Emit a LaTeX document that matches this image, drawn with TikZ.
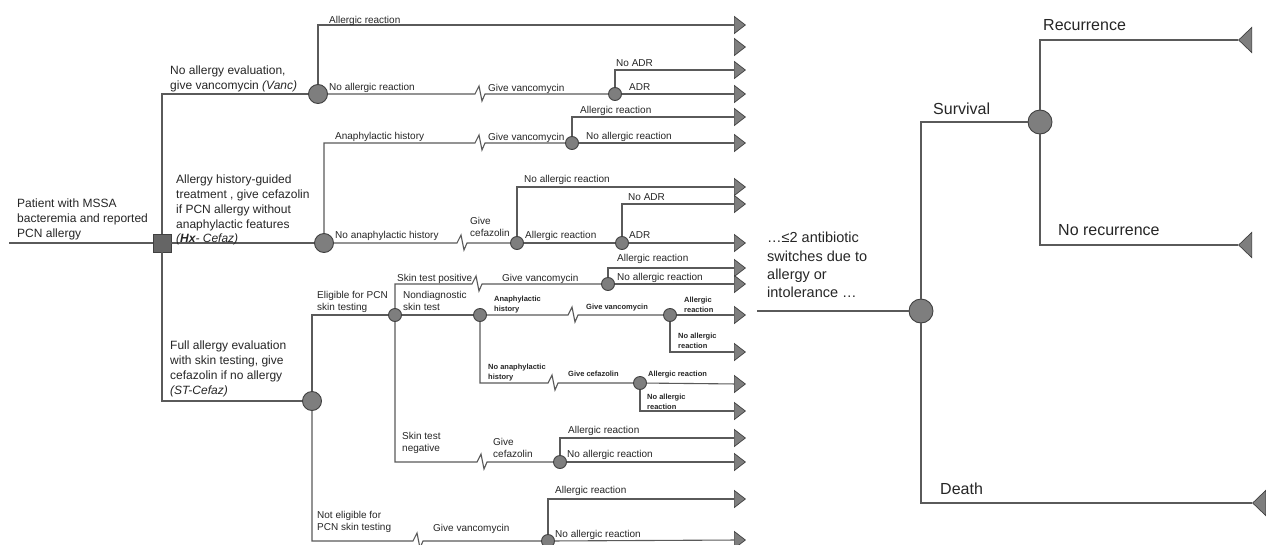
\documentclass[tikz,border=0pt]{standalone}
\usepackage{fontspec}
\setmainfont{Liberation Sans}
\usetikzlibrary{shapes.geometric}

\definecolor{wire}{HTML}{5A5A5A}
\definecolor{bulb}{HTML}{7E7E7E}
\definecolor{rim}{HTML}{404040}

\begin{document}
\begin{tikzpicture}[x=1pt,y=-1pt]
   \tikzstyle{every node}=[inner sep=0pt,text=black!85]
   \tikzstyle{conn}=[draw=wire,line width=1.1pt]
   \tikzstyle{elbow}=[to path={|- (\tikztotarget) \tikztonodes}]
   \tikzstyle{zz}=[insert path={-- ++(4,-8) -- ++(3,15) -- ++(3,-7)}]
   \tikzstyle{chance}=[circle,draw=rim,fill=bulb,line width=0.9pt,minimum size=13pt]
   \tikzstyle{bigchance}=[chance,minimum size=19pt]
   \tikzstyle{decision}=[rectangle,draw=rim,fill=bulb!80!black,line width=0.9pt,minimum size=18pt]
   \tikzstyle{stop}=[isosceles triangle,isosceles triangle stretches,shape border rotate=0,minimum width=17pt,minimum height=11pt,draw=rim,fill=bulb,line width=0.7pt,anchor=lower side]
   \tikzstyle{stopleft}=[stop,shape border rotate=180,minimum width=25pt,minimum height=13pt]
   \tikzstyle{lbl}=[font=\fontsize{10}{12}\selectfont,anchor=base west]
   \tikzstyle{lbls}=[lbl,align=left,anchor=north west]
   \tikzstyle{tny}=[font=\bfseries\fontsize{7.5}{10}\selectfont,anchor=base west]
   \tikzstyle{tnys}=[tny,align=left,anchor=north west]
   \tikzstyle{arm}=[font=\fontsize{12}{14.7}\selectfont,align=left,anchor=north west]
   \tikzstyle{outc}=[font=\fontsize{16}{19}\selectfont,anchor=base west]

   \path[use as bounding box,fill=white] (0,0) rectangle (1266,544);

   % decision and chance nodes
   \coordinate (root) at (9,243);
   \node[decision]  (D)   at (162,243) {};
   \node[bigchance] (C1)  at (318,94)  {};
   \node[chance]    (C2)  at (615,94)  {};
   \node[bigchance] (C3)  at (324,243) {};
   \node[chance]    (C4)  at (572,143) {};
   \node[chance]    (C5)  at (517,243) {};
   \node[chance]    (C6)  at (622,243) {};
   \node[bigchance] (C7)  at (312,401) {};
   \node[chance]    (C8)  at (395,315) {};
   \node[chance]    (C9)  at (608,284) {};
   \node[chance]    (C10) at (480,315) {};
   \node[chance]    (C11) at (670,315) {};
   \node[chance]    (C12) at (640,383) {};
   \node[chance]    (C13) at (560,462) {};
   \node[chance]    (C14) at (548,541) {};

   % breaks in the time line
   \coordinate (k1) at (480,94);
   \coordinate (k2) at (480,143);
   \coordinate (k3) at (462,243);
   \coordinate (k4) at (477,284);
   \coordinate (k5) at (573,315);
   \coordinate (k6) at (553,383);
   \coordinate (k7) at (482,462);
   \coordinate (k8) at (418,541);

   % end points
   \node[stop] (t1)  at (734,25)  {};
   \node[stop] (t2)  at (734,47)  {};
   \node[stop] (t3)  at (734,70)  {};
   \node[stop] (t4)  at (734,94)  {};
   \node[stop] (t5)  at (734,117) {};
   \node[stop] (t6)  at (734,143) {};
   \node[stop] (t7)  at (734,187) {};
   \node[stop] (t8)  at (734,204) {};
   \node[stop] (t9)  at (734,243) {};
   \node[stop] (t10) at (734,268) {};
   \node[stop] (t11) at (734,284) {};
   \node[stop] (t12) at (734,315) {};
   \node[stop] (t13) at (734,352) {};
   \node[stop] (t14) at (734,384) {};
   \node[stop] (t15) at (734,411) {};
   \node[stop] (t16) at (734,438) {};
   \node[stop] (t17) at (734,462) {};
   \node[stop] (t18) at (734,499) {};
   \node[stop] (t19) at (734,540) {};

   \path[conn]
     (root) edge (D)
     (D)   edge [elbow] (C1)
     (D)   edge         (C3)
     (D)   edge [elbow] (C7)
     (C1)  edge [elbow] (t1)
     (C2)  edge [elbow] (t3)
     (C2)  edge         (t4)
     (C4)  edge [elbow] (t5)
     (C4)  edge         (t6)
     (C5)  edge [elbow] (t7)
     (C5)  edge         (C6)
     (C6)  edge [elbow] (t8)
     (C6)  edge         (t9)
     (C7)  edge [elbow] (C8)
     (C8)  edge         (C10)
     (C9)  edge [elbow] (t10)
     (C9)  edge         (t11)
     (C11) edge         (t12)
     (C11) edge [elbow] (t13)
     (C12) edge         (t14)
     (C12) edge [elbow] (t15)
     (C13) edge [elbow] (t16)
     (C13) edge         (t17)
     (C14) edge [elbow] (t18)
     (C14) edge         (t19);
   \draw[conn] (C1) -- ([xshift=-5pt]k1) [zz] -- (C2);
   \draw[conn] (C3) |- ([xshift=-5pt]k2) [zz] -- (C4);
   \draw[conn] (C3) -- ([xshift=-5pt]k3) [zz] -- (C5);
   \draw[conn] (C8) |- ([xshift=-5pt]k4) [zz] -- (C9);
   \draw[conn] (C10) -- ([xshift=-5pt]k5) [zz] -- (C11);
   \draw[conn] (C10) |- ([xshift=-5pt]k6) [zz] -- (C12);
   \draw[conn] (C8) |- ([xshift=-5pt]k7) [zz] -- (C13);
   \draw[conn] (C7) |- ([xshift=-5pt]k8) [zz] -- (C14);

   % strategy arms
   \node[arm] (pat) at (17,199) {Patient with MSSA\\bacteremia and reported\\PCN allergy};
   \node[arm] (vanc) at (170,66) {No allergy evaluation,\\give vancomycin \textit{(Vanc)}};
   \node[arm] (hx) at (176,175) {Allergy history-guided\\treatment , give cefazolin\\if PCN allergy without\\anaphylactic features\\\textit{(\textbf{Hx}- Cefaz)}};
   \node[arm] (st) at (170,341) {Full allergy evaluation\\with skin testing, give\\cefazolin if no allergy\\\textit{(ST-Cefaz)}};

   % branch labels
   \node[lbl] at (329,23)  {Allergic reaction};
   \node[lbl] at (329,90)  {No allergic reaction};
   \node[lbl] at (488,91)  {Give vancomycin};
   \node[lbl] at (616,66)  {No ADR};
   \node[lbl] at (629,90)  {ADR};
   \node[lbl] at (580,113) {Allergic reaction};
   \node[lbl] at (335,139) {Anaphylactic history};
   \node[lbl] at (488,140) {Give vancomycin};
   \node[lbl] at (586,139) {No allergic reaction};
   \node[lbl] at (335,238) {No anaphylactic history};
   \node[lbls] at (470,217) {Give\\cefazolin};
   \node[lbl] at (524,182) {No allergic reaction};
   \node[lbl] at (525,238) {Allergic reaction};
   \node[lbl] at (628,200) {No ADR};
   \node[lbl] at (629,238) {ADR};
   \node[lbls] at (317,291) {Eligible for PCN\\skin testing};
   \node[lbl] at (397,281) {Skin test positive};
   \node[lbl] at (502,281) {Give vancomycin};
   \node[lbl] at (617,261) {Allergic reaction};
   \node[lbl] at (617,280) {No allergic reaction};
   \node[lbls] at (403,291) {Nondiagnostic\\skin test};
   \node[tnys] at (494,296) {Anaphylactic\\history};
   \node[tny] at (586,309) {Give vancomycin};
   \node[tnys] at (684,297) {Allergic\\reaction};
   \node[tnys] at (678,333) {No allergic\\reaction};
   \node[tnys] at (488,364) {No anaphylactic\\history};
   \node[tny] at (568,376) {Give cefazolin};
   \node[tny] at (648,376) {Allergic reaction};
   \node[tnys] at (647,394) {No allergic\\reaction};
   \node[lbls] at (402,432) {Skin test\\negative};
   \node[lbls] at (493,438) {Give\\cefazolin};
   \node[lbl] at (568,433) {Allergic reaction};
   \node[lbl] at (567,457) {No allergic reaction};
   \node[lbls] at (317,511) {Not eligible for\\PCN skin testing};
   \node[lbl] at (433,531) {Give vancomycin};
   \node[lbl] at (555,493) {Allergic reaction};
   \node[lbl] at (555,537) {No allergic reaction};

   % outcome tree
   \coordinate (s0) at (757,311);
   \node[bigchance,minimum size=24pt] (C15) at (921,311) {};
   \node[bigchance,minimum size=24pt] (C16) at (1040,122) {};
   \node[stopleft] (r1) at (1252,40)  {};
   \node[stopleft] (r2) at (1252,245) {};
   \node[stopleft] (r3) at (1266,503) {};
   \path[conn]
     (s0)  edge         (C15)
     (C15) edge [elbow] (C16)
     (C15) edge [elbow] (r3)
     (C16) edge [elbow] (r1)
     (C16) edge [elbow] (r2);
   \node[font=\fontsize{14.5}{18.3}\selectfont,align=left,anchor=north west] (sw) at (767,232) {…≤2 antibiotic\\switches due to\\allergy or\\intolerance …};
   \node[outc] at (933,114)  {Survival};
   \node[outc] at (1043,30)  {Recurrence};
   \node[outc] at (1058,235) {No recurrence};
   \node[outc] at (940,494)  {Death};
\end{tikzpicture}
\end{document}
